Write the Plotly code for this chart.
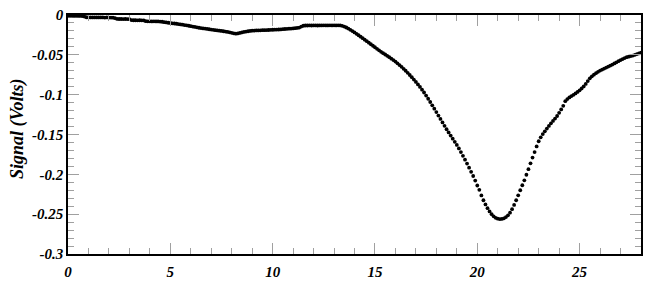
import plotly.graph_objects as go

# time axis (x) sampled every 0.1 from 0 to 28
x_start = 0.0
x_step = 0.1

signal = [
    # 0.0 - 0.9
    -0.0010, -0.0010, -0.0010, -0.0011, -0.0010, -0.0011, -0.0012, -0.0013, -0.0020, -0.0028,
    # 1.0 - 1.9
    -0.0030, -0.0030, -0.0031, -0.0030, -0.0031, -0.0031, -0.0030, -0.0031, -0.0032, -0.0031,
    # 2.0 - 2.9
    -0.0032, -0.0032, -0.0033, -0.0040, -0.0049, -0.0050, -0.0050, -0.0051, -0.0050, -0.0051,
    # 3.0 - 3.9
    -0.0052, -0.0064, -0.0066, -0.0066, -0.0067, -0.0066, -0.0067, -0.0068, -0.0078, -0.0080,
    # 4.0 - 4.9
    -0.0080, -0.0081, -0.0080, -0.0081, -0.0081, -0.0082, -0.0085, -0.0090, -0.0093, -0.0097,
    # 5.0 - 5.9
    -0.0100, -0.0104, -0.0107, -0.0110, -0.0114, -0.0118, -0.0122, -0.0126, -0.0130, -0.0135,
    # 6.0 - 6.9
    -0.0140, -0.0145, -0.0150, -0.0155, -0.0160, -0.0164, -0.0168, -0.0171, -0.0175, -0.0179,
    # 7.0 - 7.9
    -0.0183, -0.0186, -0.0190, -0.0194, -0.0197, -0.0200, -0.0204, -0.0208, -0.0212, -0.0218,
    # 8.0 - 8.9
    -0.0224, -0.0230, -0.0234, -0.0231, -0.0225, -0.0219, -0.0213, -0.0208, -0.0204, -0.0200,
    # 9.0 - 9.9
    -0.0197, -0.0195, -0.0194, -0.0193, -0.0192, -0.0191, -0.0190, -0.0189, -0.0188, -0.0186,
    # 10.0 - 10.9
    -0.0185, -0.0184, -0.0183, -0.0182, -0.0181, -0.0178, -0.0176, -0.0174, -0.0172, -0.0170,
    # 11.0 - 11.9
    -0.0168, -0.0165, -0.0162, -0.0158, -0.0145, -0.0135, -0.0132, -0.0132, -0.0131, -0.0132,
    # 12.0 - 12.9
    -0.0131, -0.0131, -0.0132, -0.0131, -0.0131, -0.0130, -0.0131, -0.0131, -0.0130, -0.0131,
    # 13.0 - 13.9
    -0.0130, -0.0131, -0.0130, -0.0131, -0.0136, -0.0145, -0.0157, -0.0171, -0.0186, -0.0202,
    # 14.0 - 14.9
    -0.0219, -0.0236, -0.0254, -0.0272, -0.0291, -0.0310, -0.0329, -0.0348, -0.0367, -0.0386,
    # 15.0 - 15.9
    -0.0405, -0.0424, -0.0443, -0.0462, -0.0479, -0.0496, -0.0513, -0.0530, -0.0548, -0.0566,
    # 16.0 - 16.9
    -0.0585, -0.0606, -0.0628, -0.0651, -0.0675, -0.0700, -0.0726, -0.0753, -0.0781, -0.0810,
    # 17.0 - 17.9
    -0.0840, -0.0871, -0.0903, -0.0937, -0.0973, -0.1011, -0.1051, -0.1092, -0.1134, -0.1176,
    # 18.0 - 18.9
    -0.1219, -0.1262, -0.1305, -0.1348, -0.1391, -0.1434, -0.1474, -0.1514, -0.1553, -0.1592,
    # 19.0 - 19.9
    -0.1631, -0.1675, -0.1721, -0.1768, -0.1816, -0.1865, -0.1916, -0.1968, -0.2021, -0.2078,
    # 20.0 - 20.9
    -0.2140, -0.2195, -0.2265, -0.2325, -0.2378, -0.2425, -0.2466, -0.2500, -0.2527, -0.2546,
    # 21.0 - 21.9
    -0.2557, -0.2562, -0.2560, -0.2552, -0.2537, -0.2514, -0.2481, -0.2437, -0.2384, -0.2325,
    # 22.0 - 22.9
    -0.2263, -0.2200, -0.2137, -0.2075, -0.2005, -0.1935, -0.1862, -0.1790, -0.1720, -0.1650,
    # 23.0 - 23.9
    -0.1585, -0.1535, -0.1495, -0.1460, -0.1425, -0.1392, -0.1360, -0.1330, -0.1300, -0.1268,
    # 24.0 - 24.9
    -0.1228, -0.1185, -0.1140, -0.1082, -0.1055, -0.1035, -0.1018, -0.1002, -0.0985, -0.0966,
    # 25.0 - 25.9
    -0.0945, -0.0922, -0.0896, -0.0865, -0.0830, -0.0795, -0.0770, -0.0749, -0.0730, -0.0713,
    # 26.0 - 26.9
    -0.0698, -0.0685, -0.0672, -0.0660, -0.0648, -0.0635, -0.0622, -0.0608, -0.0594, -0.0580,
    # 27.0 - 27.9
    -0.0566, -0.0553, -0.0541, -0.0530, -0.0523, -0.0516, -0.0509, -0.0500, -0.0490, -0.0482,
    # 28.0
    -0.0472,
]

time = [round(x_start + i * x_step, 1) for i in range(len(signal))]

x_tickvals = [0, 5, 10, 15, 20, 25]
x_ticktext = ["0", "5", "10", "15", "20", "25"]
y_tickvals = [0, -0.05, -0.1, -0.15, -0.2, -0.25, -0.3]
y_ticktext = ["0", "-0.05", "-0.1", "-0.15", "-0.2", "-0.25", "-0.3"]
y_title = "Signal (Volts)"

tick_font = dict(family="Liberation Serif", size=15, color="black",
                 weight="bold", style="italic")

fig = go.Figure()
fig.add_trace(go.Scatter(
    x=time, y=signal, mode="markers",
    marker=dict(color="black", size=3.8, line=dict(width=0)),
    showlegend=False, cliponaxis=False,
))

fig.update_xaxes(
    range=[0, 28], showgrid=False, zeroline=False,
    showline=True, linecolor="black", linewidth=1.5, mirror="ticks",
    ticks="inside", ticklen=11, tickcolor="#a0a0a0", tickwidth=1,
    tickvals=x_tickvals, ticktext=x_ticktext, tickfont=tick_font,
    ticklabelstandoff=3,
    minor=dict(dtick=1, ticks="inside", ticklen=6, tickcolor="#a0a0a0", tickwidth=1, showgrid=False),
)
fig.update_yaxes(
    range=[-0.3, 0], showgrid=False, zeroline=False,
    showline=True, linecolor="black", linewidth=1.5, mirror="ticks",
    ticks="inside", ticklen=11, tickcolor="#a0a0a0", tickwidth=1,
    tickvals=y_tickvals, ticktext=y_ticktext, tickfont=tick_font,
    minor=dict(dtick=0.01, tick0=0, ticks="inside", ticklen=6, tickcolor="#a0a0a0", tickwidth=1, showgrid=False),
)

fig.add_annotation(
    text=y_title, xref="paper", yref="paper", x=-0.088, y=0.525,
    textangle=-90, showarrow=False, xanchor="center", yanchor="middle",
    font=dict(family="Liberation Serif", size=18, color="black", weight="bold", style="italic"),
)

fig.update_layout(
    width=650, height=287,
    margin=dict(l=68, r=7, t=8, b=21),
    paper_bgcolor="white", plot_bgcolor="white",
)

fig.write_html("out.html")
